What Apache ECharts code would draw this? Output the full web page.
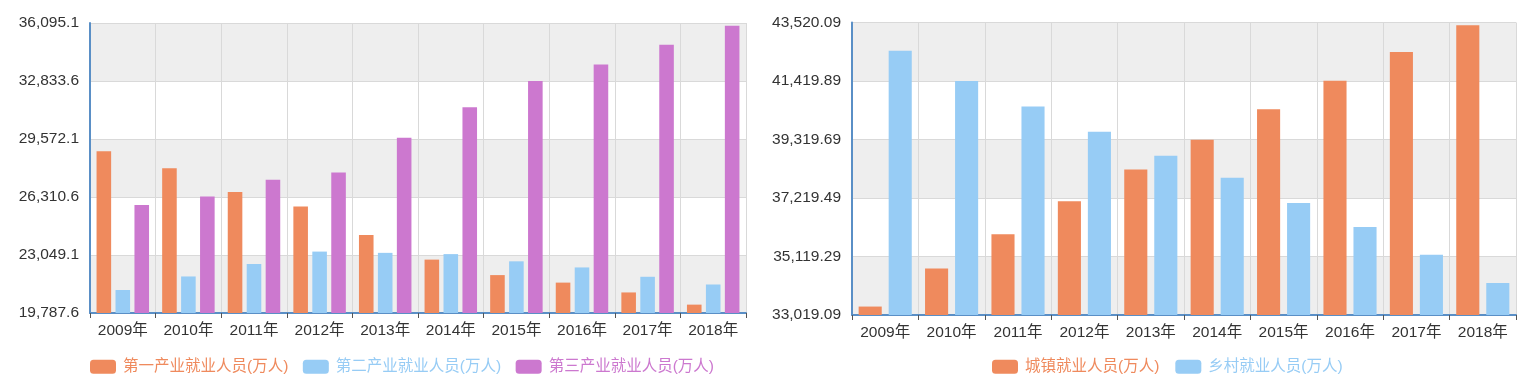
<!DOCTYPE html>
<html>
<head>
<meta charset="utf-8">
<script src="https://cdn.jsdelivr.net/npm/echarts@6/dist/echarts.min.js"></script>
<style>
html,body{margin:0;padding:0;background:#fff;}
#c{width:1530px;height:392px;}
</style>
</head>
<body>
<div id="c"></div>
<script>
const years = ['2009年','2010年','2011年','2012年','2013年','2014年','2015年','2016年','2017年','2018年'];
const primaryEmp = [28890, 27931, 26594, 25773, 24171, 22790, 21919, 21496, 20944, 20258];
const secondaryEmp = [21080, 21842, 22544, 23241, 23170, 23099, 22693, 22350, 21824, 21390];
const tertiaryEmp = [25857, 26332, 27282, 27690, 29636, 31364, 32839, 33757, 34872, 35938];
const urbanEmp = [33322, 34687, 35914, 37102, 38240, 39310, 40410, 41428, 42462, 43419];
const ruralEmp = [42506, 41418, 40506, 39602, 38737, 37943, 37041, 36175, 35178, 34167];
const leftTicks = [19787.6, 23049.1, 26310.6, 29572.1, 32833.6, 36095.1];
const rightTicks = [33019.09, 35119.29, 37219.49, 39319.69, 41419.89, 43520.09];

const FONT = "'Liberation Sans', 'Noto Sans CJK SC', sans-serif";
const ORANGE = '#EF8A5D', BLUE = '#97CCF5', PURPLE = '#CC78CF';
const AXIS_BLUE = '#5A8FC6';

function fmt(v, d) {
  const parts = v.toFixed(d).split('.');
  parts[0] = parts[0].replace(/\B(?=(\d{3})+(?!\d))/g, ',');
  return parts.join('.');
}

function xAxis(gi) {
  return {
    type: 'category', gridIndex: gi, data: years, boundaryGap: true,
    axisLine: {show: true, lineStyle: {color: AXIS_BLUE, width: 2}},
    axisTick: {show: true, length: 5, lineStyle: {color: '#555'}},
    axisLabel: {color: '#333', fontSize: 15.5, fontFamily: FONT, margin: 10},
    splitLine: {show: true, lineStyle: {color: '#d9d9d9', width: 1}},
    splitArea: {show: false}
  };
}
function yAxis(gi, ticks, dec) {
  return {
    type: 'value', gridIndex: gi, min: ticks[0], max: ticks[ticks.length - 1],
    axisLine: {show: true, lineStyle: {color: AXIS_BLUE, width: 2}},
    axisTick: {show: false, customValues: ticks},
    axisLabel: {customValues: ticks, color: '#333', fontSize: 15.5, fontFamily: FONT, margin: 11,
      formatter: v => fmt(v, dec)},
    splitLine: {show: true, lineStyle: {color: '#d9d9d9', width: 1}},
    splitArea: {show: true, areaStyle: {color: ['#eeeeee', '#ffffff']}}
  };
}
function bar(name, data, color, xi) {
  return {
    name: name, type: 'bar', xAxisIndex: xi, yAxisIndex: xi, data: data,
    barGap: '30%', barCategoryGap: '20%',
    itemStyle: {color: color}
  };
}

const chart = echarts.init(document.getElementById('c'), null, {renderer: 'canvas'});
chart.setOption({
  animation: false,
  textStyle: {fontFamily: FONT},
  grid: [
    {left: 90, top: 23, width: 656, height: 290},
    {left: 852, top: 22.5, width: 664, height: 292.5}
  ],
  legend: [
    {left: 90, top: 359, padding: 0, itemWidth: 26, itemHeight: 14, itemGap: 14.5,
     data: ['第一产业就业人员(万人)', '第二产业就业人员(万人)', '第三产业就业人员(万人)'],
     textStyle: {fontSize: 15.5, fontFamily: FONT, color: 'inherit', padding: [0, 0, 0, 2]}},
    {left: 992, top: 359, padding: 0, itemWidth: 26, itemHeight: 14, itemGap: 16,
     data: ['城镇就业人员(万人)', '乡村就业人员(万人)'],
     textStyle: {fontSize: 15.5, fontFamily: FONT, color: 'inherit', padding: [0, 0, 0, 2]}}
  ],
  xAxis: [xAxis(0), xAxis(1)],
  yAxis: [yAxis(0, leftTicks, 1), yAxis(1, rightTicks, 2)],
  series: [
    bar('第一产业就业人员(万人)', primaryEmp, ORANGE, 0),
    bar('第二产业就业人员(万人)', secondaryEmp, BLUE, 0),
    bar('第三产业就业人员(万人)', tertiaryEmp, PURPLE, 0),
    bar('城镇就业人员(万人)', urbanEmp, ORANGE, 1),
    bar('乡村就业人员(万人)', ruralEmp, BLUE, 1)
  ]
});
</script>
</body>
</html>
